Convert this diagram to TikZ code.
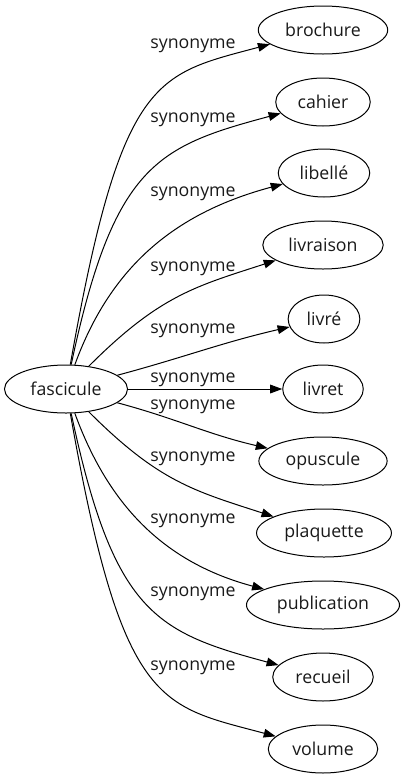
\documentclass[tikz,border=0pt]{standalone}
\usepackage{fontspec}
\setmainfont{Open Sans}
\usetikzlibrary{%
        arrows.meta,
        shapes.geometric
    }
\tikzset{%
    word/.style={%
        ellipse, draw, line width=0.75pt,
        minimum height=36pt, inner xsep=6pt, inner ysep=2pt,
        text=black!90, font=\fontsize{13.3pt}{15pt}\selectfont
    },
    rel/.style={%
        inner sep=0pt, text=black!90,
        font=\fontsize{13.3pt}{15pt}\selectfont
    },
    syn/.style={%
        -{Triangle[length=9pt, width=6.5pt]}, line width=0.75pt
    }
}

\begin{document}
\begin{tikzpicture}[x=0.75pt, y=-0.75pt]

    \useasboundingbox (0, 0) rectangle (402, 779);

    % Head word
    \node[word] (fascicule) at (66, 389) {fascicule};

    % Synonyms
    \node[word] (brochure) at (323, 30) {brochure};
    \node[word] (cahier) at (323, 102) {cahier};
    \node[word] (libelle) at (324, 173) {libellé};
    \node[word] (livraison) at (323, 245) {livraison};
    \node[word] (livre) at (324, 319) {livré};
    \node[word] (livret) at (323, 389) {livret};
    \node[word] (opuscule) at (323, 461) {opuscule};
    \node[word] (plaquette) at (324, 533) {plaquette};
    \node[word] (publication) at (323, 605) {publication};
    \node[word] (recueil) at (323, 677) {recueil};
    \node[word] (volume) at (323, 749) {volume};

    % Edge labels
    \foreach \yy [count=\i] in {46, 120, 194, 269, 331, 380,
                                407, 459, 521, 594, 668}{%
        \node[rel] (syn-\i) at (193, \yy) {synonyme};
    };

    %%% Upper edges
    \draw[syn] (fascicule)
        to [out=80, in=195, out looseness=2, in looseness=0.8] (brochure);
    \draw[syn] (fascicule)
        to [out=78, in=195, out looseness=1.6] (cahier);
    \draw[syn] (fascicule)
        to [out=70, in=195] (libelle);
    \draw[syn] (fascicule)
        to [out=45, in=198, out looseness=1.2] (livraison);
    \draw[syn] (fascicule)
        to [out=15, in=193] (livre);

    % Straight edge
    \draw[syn] (fascicule) -- (livret);

    %%% Lower edges
    \draw[syn] (fascicule)
        to [out=-15, in=167] (opuscule);
    \draw[syn] (fascicule)
        to [out=-45, in=162, out looseness=1.2] (plaquette);
    \draw[syn] (fascicule)
        to [out=-70, in=165] (publication);
    \draw[syn] (fascicule)
        to [out=-78, in=165, out looseness=1.6] (recueil);
    \draw[syn] (fascicule)
        to [out=-80, in=165, out looseness=2, in looseness=0.8] (volume);

\end{tikzpicture}
\end{document}
